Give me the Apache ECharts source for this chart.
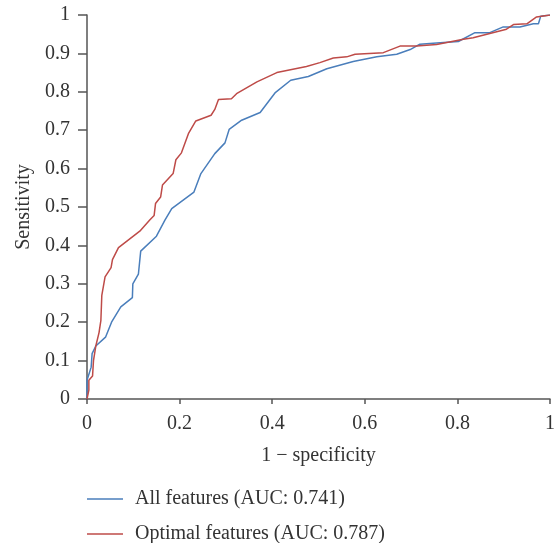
<!DOCTYPE html>
<html style="height: 100%">
<head>
<meta charset="utf-8">
<script src="https://cdn.jsdelivr.net/npm/echarts@6/dist/echarts.min.js"></script>
<title>ROC curves</title>
</head>
<body style="height: 100%; margin: 0">
<div id="container" style="width: 558px; height: 543px"></div>
<script type="text/javascript">

// 1 - specificity (x) and sensitivity (y)
const allFpr = [0, 0, 0.009, 0.011, 0.019, 0.040, 0.053, 0.073, 0.098, 0.099, 0.111, 0.116, 0.150, 0.168, 0.183, 0.231, 0.246, 0.276, 0.298, 0.307, 0.334, 0.374, 0.406, 0.440, 0.478, 0.518, 0.575, 0.626, 0.669, 0.698, 0.719, 0.755, 0.802, 0.838, 0.870, 0.899, 0.935, 0.964, 0.975, 0.980, 1];
const allTpr = [0, 0.049, 0.083, 0.118, 0.138, 0.161, 0.200, 0.240, 0.264, 0.300, 0.325, 0.385, 0.424, 0.465, 0.496, 0.539, 0.587, 0.639, 0.667, 0.702, 0.726, 0.746, 0.797, 0.830, 0.840, 0.860, 0.879, 0.891, 0.898, 0.910, 0.924, 0.927, 0.931, 0.954, 0.954, 0.969, 0.969, 0.977, 0.977, 0.997, 1];

const optFpr = [0, 0.004, 0.004, 0.012, 0.014, 0.019, 0.026, 0.030, 0.032, 0.039, 0.052, 0.055, 0.068, 0.114, 0.136, 0.145, 0.148, 0.159, 0.163, 0.186, 0.192, 0.204, 0.219, 0.235, 0.268, 0.276, 0.284, 0.312, 0.323, 0.367, 0.410, 0.474, 0.503, 0.532, 0.561, 0.579, 0.640, 0.676, 0.712, 0.755, 0.813, 0.834, 0.906, 0.921, 0.950, 0.971, 1];
const optTpr = [0, 0.023, 0.049, 0.060, 0.100, 0.138, 0.173, 0.205, 0.270, 0.318, 0.342, 0.363, 0.394, 0.437, 0.467, 0.478, 0.509, 0.526, 0.557, 0.587, 0.623, 0.641, 0.691, 0.724, 0.739, 0.754, 0.780, 0.782, 0.795, 0.826, 0.850, 0.866, 0.876, 0.888, 0.891, 0.898, 0.902, 0.919, 0.919, 0.923, 0.937, 0.941, 0.963, 0.975, 0.977, 0.995, 1];

const seriesNames = ['All features (AUC: 0.741)', 'Optimal features (AUC: 0.787)'];

let font = 'Liberation Serif';
let fs = 20;
let txt = '#333';
let axisCol = '#555';

let chart = echarts.init(document.getElementById('container'));

function pairs(xs, ys) {
  return xs.map(function (x, i) { return [x, ys[i]]; });
}

// one legend per row so the two entries stack like the original
function legendRow(name, top) {
  return {
    left: 82,
    top: top,
    itemWidth: 36,
    itemHeight: 1.5,
    icon: 'rect',
    textStyle: { fontFamily: font, fontSize: fs, color: txt, padding: [0, 0, 0, 7] },
    data: [name]
  };
}

chart.setOption({
  animation: false,
  grid: { left: 87, right: 8, top: 15, bottom: 144 },
  legend: [legendRow(seriesNames[0], 484), legendRow(seriesNames[1], 519)],
  xAxis: {
    type: 'value',
    min: 0, max: 1, interval: 0.2,
    name: '1 \u2212 specificity',
    nameLocation: 'middle',
    nameGap: 47,
    nameTextStyle: { fontFamily: font, fontSize: fs, color: txt },
    axisLine: { lineStyle: { color: axisCol, width: 1.5 } },
    axisTick: { show: true, length: 5, lineStyle: { color: axisCol, width: 1.5 } },
    axisLabel: { fontFamily: font, fontSize: fs, color: txt, margin: 15 },
    splitLine: { show: false }
  },
  yAxis: {
    type: 'value',
    min: 0, max: 1, interval: 0.1,
    name: 'Sensitivity',
    nameLocation: 'middle',
    nameGap: 52,
    nameTextStyle: { fontFamily: font, fontSize: fs, color: txt },
    axisLine: { show: true, lineStyle: { color: axisCol, width: 1.5 } },
    axisTick: { show: true, length: 9, lineStyle: { color: axisCol, width: 1.5 } },
    axisLabel: { fontFamily: font, fontSize: fs, color: txt, margin: 17 },
    splitLine: { show: false }
  },
  series: [
    {
      name: seriesNames[0],
      type: 'line',
      showSymbol: false,
      data: pairs(allFpr, allTpr),
      itemStyle: { color: '#4a7ebb' },
      lineStyle: { color: '#4a7ebb', width: 1.5 }
    },
    {
      name: seriesNames[1],
      type: 'line',
      showSymbol: false,
      data: pairs(optFpr, optTpr),
      itemStyle: { color: '#be4b48' },
      lineStyle: { color: '#be4b48', width: 1.5 }
    }
  ]
});

</script>
</body>
</html>
